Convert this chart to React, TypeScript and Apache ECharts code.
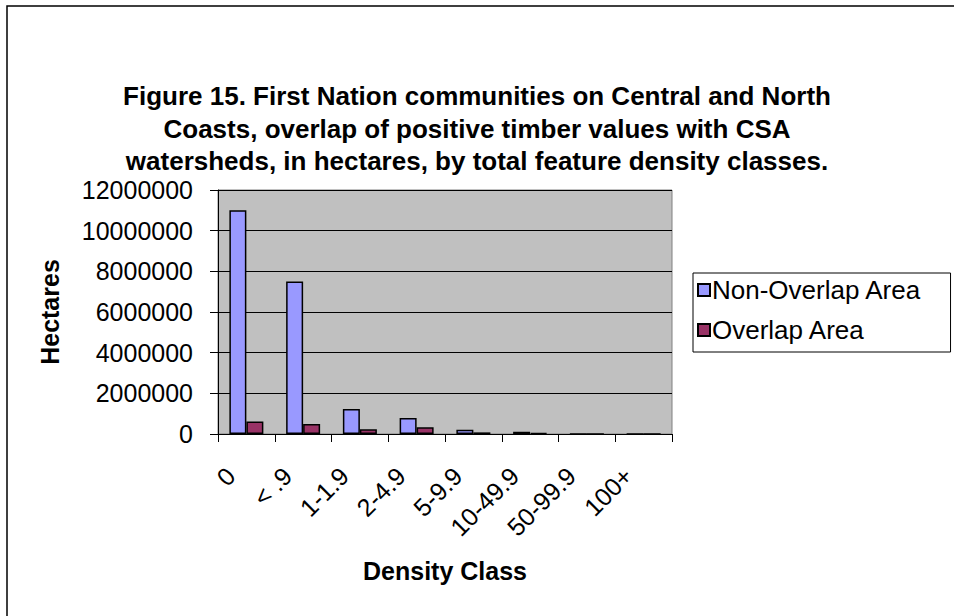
import React, { useEffect, useRef } from "react";
import * as echarts from "echarts";

const categories = ["0", "< .9", "1-1.9", "2-4.9", "5-9.9", "10-49.9", "50-99.9", "100+"];
const nonOverlap = [11000000, 7500000, 1230000, 790000, 210000, 110000, 0, 0];
const overlap = [610000, 490000, 230000, 330000, 80000, 50000, 0, 0];
const yTicks = { min: 0, max: 12000000, interval: 2000000 };
const seriesNames = ["Non-Overlap Area", "Overlap Area"];

const titleText =
  "Figure 15. First Nation communities on Central and North\nCoasts, overlap of positive timber values with CSA\nwatersheds, in hectares, by total feature density classes.";

const FONT = "Liberation Sans, Arial, sans-serif";

export default function App() {
  const ref = useRef<HTMLDivElement>(null);
  useEffect(() => {
    if (!ref.current) return;
    const chart = echarts.init(ref.current, null, { renderer: "svg" });
    chart.setOption({
      animation: false,
      backgroundColor: "#ffffff",
      textStyle: { fontFamily: FONT },
      graphic: [
        {
          type: "rect",
          shape: { x: 7, y: 6, width: 1000, height: 700 },
          style: { fill: "none", stroke: "#000", lineWidth: 1.5 },
          silent: true,
          z: 100,
        },
        {
          type: "text",
          x: 477,
          y: 80,
          style: {
            text: titleText,
            align: "center",
            verticalAlign: "top",
            font: "bold 26px " + FONT,
            lineHeight: 32.5,
            fill: "#000",
          },
          silent: true,
        },
      ],
      legend: {
        orient: "vertical",
        left: 693,
        top: 273,
        padding: [2, 29, 7, 4],
        itemGap: 10,
        itemWidth: 12,
        itemHeight: 12,
        borderColor: "#000",
        borderWidth: 1,
        icon: "rect",
        textStyle: {
          fontFamily: FONT,
          fontSize: 26,
          lineHeight: 30,
          color: "#000",
          padding: [0, 0, 0, -3],
        },
        data: seriesNames,
      },
      grid: {
        left: 218,
        top: 190,
        width: 454,
        height: 244,
        show: true,
        backgroundColor: "#C0C0C0",
        borderColor: "#808080",
        borderWidth: 1,
      },
      xAxis: {
        type: "category",
        data: categories,
        name: "Density Class",
        nameLocation: "middle",
        nameGap: 124,
        nameTextStyle: { fontFamily: FONT, fontSize: 25, fontWeight: "bold", color: "#000" },
        axisLine: { lineStyle: { color: "#000", width: 1 } },
        axisTick: { show: true, alignWithLabel: false, length: 8, lineStyle: { color: "#000" } },
        axisLabel: {
          rotate: 45,
          interval: 0,
          margin: 22,
          padding: [0, 22, 0, 0],
          fontFamily: FONT,
          fontSize: 25,
          color: "#000",
        },
      },
      yAxis: {
        type: "value",
        min: yTicks.min,
        max: yTicks.max,
        interval: yTicks.interval,
        name: "Hectares",
        nameLocation: "middle",
        nameGap: 156,
        nameTextStyle: { fontFamily: FONT, fontSize: 25, fontWeight: "bold", color: "#000" },
        axisLine: { show: true, lineStyle: { color: "#000", width: 1 } },
        axisTick: { show: true, length: 8, lineStyle: { color: "#000" } },
        splitLine: { show: true, lineStyle: { color: "#000", width: 1 } },
        axisLabel: {
          fontFamily: FONT,
          fontSize: 25,
          color: "#000",
          margin: 25,
          formatter: (v: number) => String(v),
        },
      },
      series: [
        {
          name: seriesNames[0],
          type: "bar",
          data: nonOverlap,
          barWidth: 17,
          barGap: "0%",
          itemStyle: { color: "#9999FF", borderColor: "#000", borderWidth: 1.5 },
        },
        {
          name: seriesNames[1],
          type: "bar",
          data: overlap,
          barWidth: 17,
          barGap: "0%",
          itemStyle: { color: "#993366", borderColor: "#000", borderWidth: 1.5 },
        },
      ],
    });
    return () => chart.dispose();
  }, []);
  return (
    <div
      ref={ref}
      style={{ position: "absolute", left: 0, top: 0, width: 954, height: 616 }}
    />
  );
}
